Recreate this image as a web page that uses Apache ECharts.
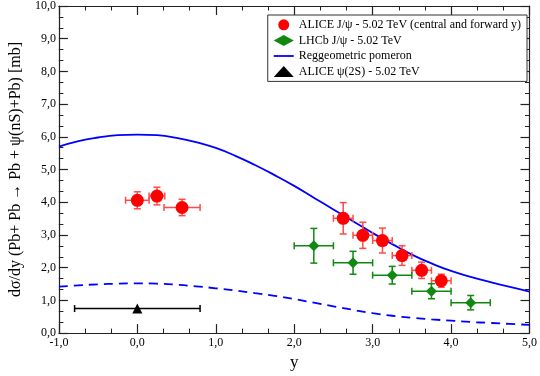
<!DOCTYPE html>
<html>
<head>
<meta charset="utf-8">
<script src="https://cdn.jsdelivr.net/npm/echarts@6/dist/echarts.min.js"></script>
<style>
html,body{margin:0;padding:0;background:#fff;}
#chart{width:540px;height:376px;}
</style>
</head>
<body>
<div id="chart"></div>
<script>
// ---- data ----
var aliceX    = [0.0, 0.25, 0.57, 2.625, 2.875, 3.125, 3.375, 3.625, 3.875];
var aliceY    = [4.06, 4.19, 3.84, 3.51, 2.99, 2.83, 2.37, 1.92, 1.60];
var aliceXErr = [0.15, 0.10, 0.23, 0.125, 0.125, 0.125, 0.125, 0.125, 0.125];
var aliceYErr = [0.26, 0.27, 0.25, 0.48, 0.40, 0.38, 0.30, 0.25, 0.20];

var lhcbX    = [2.25, 2.75, 3.25, 3.75, 4.25];
var lhcbY    = [2.67, 2.15, 1.77, 1.28, 0.93];
var lhcbXErr = [0.25, 0.25, 0.25, 0.25, 0.25];
var lhcbYErr = [0.53, 0.35, 0.27, 0.23, 0.22];

var psi2sX    = [0.0];
var psi2sY    = [0.75];
var psi2sXErr = [0.80];
var psi2sYErr = [0.08];

var curveX     = [-1.0,-0.75,-0.5,-0.25,0,0.25,0.5,0.75,1.0,1.25,1.5,1.75,2.0,2.25,2.5,2.75,3.0,3.25,3.5,3.75,4.0,4.25,4.5,4.75,5.0];
var pomeronY   = [5.70,5.87,5.98,6.05,6.07,6.05,5.97,5.84,5.66,5.42,5.14,4.83,4.50,4.14,3.78,3.42,3.06,2.72,2.40,2.13,1.90,1.72,1.56,1.41,1.27];
var psi2sCurveY= [1.42,1.46,1.49,1.51,1.52,1.51,1.48,1.43,1.37,1.30,1.22,1.14,1.04,0.93,0.82,0.71,0.61,0.53,0.47,0.42,0.38,0.34,0.31,0.28,0.25];

var names = ['ALICE J/\u03c8 - 5.02 TeV (central and forward y)', 'LHCb J/\u03c8 - 5.02 TeV', 'Reggeometric pomeron', 'ALICE \u03c8(2S) - 5.02 TeV'];
var xTicksMin = -1, xTicksMax = 5, yTicksMin = 0, yTicksMax = 10;

// ---- build ----
function zip(a,b){ return a.map(function(v,i){ return [v,b[i]]; }); }
function zip4(a,b,c,d){ return a.map(function(v,i){ return [v,b[i],c[i],d[i]]; }); }

function errRender(color){
  return function(params, api){
    var x=api.value(0), y=api.value(1), ex=api.value(2), ey=api.value(3);
    var l=api.coord([x-ex,y]), r=api.coord([x+ex,y]), t=api.coord([x,y+ey]), b=api.coord([x,y-ey]);
    var cap=3.5;
    var st={stroke:color, lineWidth:1.5};
    var kids=[
      {type:'line', shape:{x1:l[0],y1:l[1],x2:r[0],y2:r[1]}, style:st},
      {type:'line', shape:{x1:t[0],y1:t[1],x2:b[0],y2:b[1]}, style:st},
      {type:'line', shape:{x1:l[0],y1:l[1]-cap,x2:l[0],y2:l[1]+cap}, style:st},
      {type:'line', shape:{x1:r[0],y1:r[1]-cap,x2:r[0],y2:r[1]+cap}, style:st}
    ];
    if (ey > 0.1) {
      kids.push({type:'line', shape:{x1:t[0]-cap,y1:t[1],x2:t[0]+cap,y2:t[1]}, style:st});
      kids.push({type:'line', shape:{x1:b[0]-cap,y1:b[1],x2:b[0]+cap,y2:b[1]}, style:st});
    }
    return {type:'group', children:kids};
  };
}

var font = 'Liberation Serif';
var fmt = function(v){ return v.toFixed(1).replace('.', ','); };
var axisLine = {show:true, onZero:false, lineStyle:{color:'#222', width:1.2}};
var tick = {show:true, inside:true, length:9, lineStyle:{color:'#222', width:1.2}};
var minor = {show:true, splitNumber:3, length:4.5, lineStyle:{color:'#222', width:1}};

var chart = echarts.init(document.getElementById('chart'), null, {renderer:'canvas'});
chart.setOption({
  animation:false,
  backgroundColor:'#fff',
  grid:{left:52, right:10, top:6, bottom:36},
  legend:{
    orient:'vertical', right:13, top:15,
    backgroundColor:'#fff', borderColor:'#333', borderWidth:1, borderRadius:0,
    padding:[3,6,3,6], itemGap:2, itemWidth:20, itemHeight:11,
    textStyle:{fontFamily:font, fontSize:12, color:'#000', lineHeight:13.6},
    data:[
      {name:names[0], icon:'circle'},
      {name:names[1], icon:'diamond'},
      {name:names[2], icon:'path://M0,0 L20,0 L20,1.8 L0,1.8 Z'},
      {name:names[3], icon:'triangle'}
    ]
  },
  xAxis:[
    {type:'value', min:xTicksMin, max:xTicksMax, interval:1, position:'bottom',
     name:'y', nameLocation:'middle', nameGap:17,
     nameTextStyle:{fontFamily:font, fontSize:17, color:'#000'},
     axisLine:axisLine, axisTick:tick, minorTick:minor, splitLine:{show:false},
     axisLabel:{formatter:fmt, fontFamily:font, fontSize:12, color:'#000', margin:4}},
    {type:'value', min:xTicksMin, max:xTicksMax, interval:1, position:'top',
     axisLine:axisLine, axisTick:tick, minorTick:minor, splitLine:{show:false},
     axisLabel:{show:false}}
  ],
  yAxis:[
    {type:'value', min:yTicksMin, max:yTicksMax, interval:1, position:'left',
     name:'d\u03c3/dy (Pb+ Pb \u2192 Pb + \u03c8(nS)+Pb) [mb]', nameLocation:'middle', nameGap:30,
     nameTextStyle:{fontFamily:font, fontSize:16, color:'#000'},
     axisLine:axisLine, axisTick:tick, minorTick:minor, splitLine:{show:false},
     axisLabel:{formatter:fmt, fontFamily:font, fontSize:12, color:'#000', margin:3}},
    {type:'value', min:yTicksMin, max:yTicksMax, interval:1, position:'right',
     axisLine:axisLine, axisTick:tick, minorTick:minor, splitLine:{show:false},
     axisLabel:{show:false}}
  ],
  series:[
    {name:names[2], type:'line', smooth:true, showSymbol:false, symbol:'none',
     data:zip(curveX, pomeronY), lineStyle:{color:'#0000ff', width:1.8}, itemStyle:{color:'#0000ff'}, z:2},
    {name:'psi2s-curve', type:'line', smooth:true, showSymbol:false, symbol:'none',
     data:zip(curveX, psi2sCurveY), lineStyle:{color:'#0000ff', width:1.8, type:[9,6]}, itemStyle:{color:'#0000ff'}, z:2},
    {name:'alice-err', type:'custom', renderItem:errRender('#ff4a4a'), data:zip4(aliceX, aliceY, aliceXErr, aliceYErr), z:3, silent:true},
    {name:'lhcb-err', type:'custom', renderItem:errRender('#118811'), data:zip4(lhcbX, lhcbY, lhcbXErr, lhcbYErr), z:3, silent:true},
    {name:'psi2s-err', type:'custom', renderItem:errRender('#000'), data:zip4(psi2sX, psi2sY, psi2sXErr, psi2sYErr), z:3, silent:true},
    {name:names[0], type:'scatter', symbol:'circle', symbolSize:13, data:zip(aliceX, aliceY), itemStyle:{color:'#ff0000', opacity:1}, z:5},
    {name:names[1], type:'scatter', symbol:'diamond', symbolSize:11, data:zip(lhcbX, lhcbY), itemStyle:{color:'#118811', opacity:1}, z:5},
    {name:names[3], type:'scatter', symbol:'triangle', symbolSize:10, data:zip(psi2sX, psi2sY), itemStyle:{color:'#000', opacity:1}, z:5}
  ]
});
</script>
</body>
</html>
